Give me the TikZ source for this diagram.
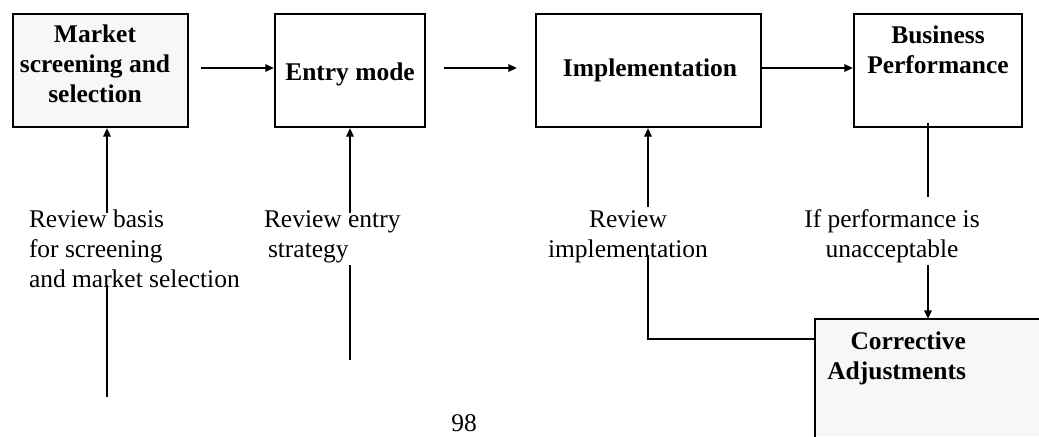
\documentclass[tikz,border=0pt]{standalone}
\usepackage{fontspec}
\setmainfont{Liberation Serif}
\usetikzlibrary{arrows.meta,calc}
\definecolor{boxgray}{HTML}{F7F7F7}
\begin{document}
\begin{tikzpicture}[x=0.75pt,y=-0.75pt,
  line width=1.5pt,
  every node/.style={font=\fontsize{19.1pt}{22.5pt}\selectfont},
  box/.style={draw, line width=1.5pt, inner sep=0pt, minimum height=84.75pt},
  lbl/.style={inner sep=0pt},
  hd/.style={inner sep=0pt, font=\fontsize{19.1pt}{22.5pt}\selectfont\bfseries},
  arr/.style={-{Triangle[length=6.5pt,width=5.5pt]}},
  ln/.style={line cap=butt}]
\useasboundingbox (0,0) rectangle (1039,436);
% boxes
\node[box, fill=boxgray, minimum width=131.25pt] (m) at (100.5,70.5) {};
\node[box, minimum width=112.5pt] (e) at (350,70.5) {};
\node[box, minimum width=168.75pt] (i) at (648.5,70.5) {};
\node[box, minimum width=126pt] (b) at (938,70.5) {};
\node[fill=boxgray, inner sep=0pt, minimum width=167.25pt, minimum height=87pt] (c) at (927.5,378) {};
\draw (c.north east) -- (c.north west) -- (c.south west);
% box texts (base anchor = last line's baseline)
\node[hd, align=center, anchor=base] (mt) at (95,102) {Market\\screening and\\selection};
\node[hd, anchor=base] (et) at (350,80) {Entry mode};
\node[hd, anchor=base] (it) at (650,76) {Implementation};
\node[hd, align=center, anchor=base] (bt) at (938,73) {Business\\Performance};
\node[hd, align=right, anchor=base east] (ct) at (967,379) {Corrective\\Adjustments};
% labels
\node[lbl, align=left, anchor=base west] (l1) at (28,287) {Review basis\\for screening\\and market selection};
\node[lbl, align=left, anchor=base west] (l2) at (263,257) {Review entry\\\hspace*{3pt}strategy};
\node[lbl, align=center, anchor=base] (l3) at (628,257) {Review\\implementation};
\node[lbl, align=center, anchor=base] (l4) at (892,257) {If performance is\\unacceptable};
\node[lbl, anchor=base] (pg) at (464,431) {98};
% free ends
\coordinate (m1) at (107,213);
\coordinate (m2) at (107,285);
\coordinate (m3) at (107,397);
\coordinate (e1) at (350,213);
\coordinate (e2) at (350,265);
\coordinate (e3) at (350,360);
\coordinate (i1) at (648,207);
\coordinate (i2) at (648,255);
\coordinate (i3) at (648,339);
\coordinate (b1) at (928,123);
\coordinate (b2) at (928,197);
\coordinate (b3) at (928,265);
% main flow
\draw[arr] ($(m.east)+(12,-2.5)$) -- ($(e.west)+(0,-2.5)$);
\draw[arr] ($(e.east)+(18,-2.5)$) -- ($(i.west)+(-18,-2.5)$);
\draw[arr] ($(i.east)+(0,-2.5)$) -- ($(b.west)+(0,-2.5)$);
% feedback
\draw[arr] (m1) -- (m1 |- m.south);
\draw[ln] (m2) -- (m3);
\draw[arr] (e1) -- (e1 |- e.south);
\draw[ln] (e2) -- (e3);
\draw[arr] (i1) -- (i1 |- i.south);
\draw[ln] (i3 -| c.west) -- (i3) -- (i2);
\draw[ln] (b1) -- (b2);
\draw[arr] (b3) -- (b3 |- c.north);
\end{tikzpicture}
\end{document}
